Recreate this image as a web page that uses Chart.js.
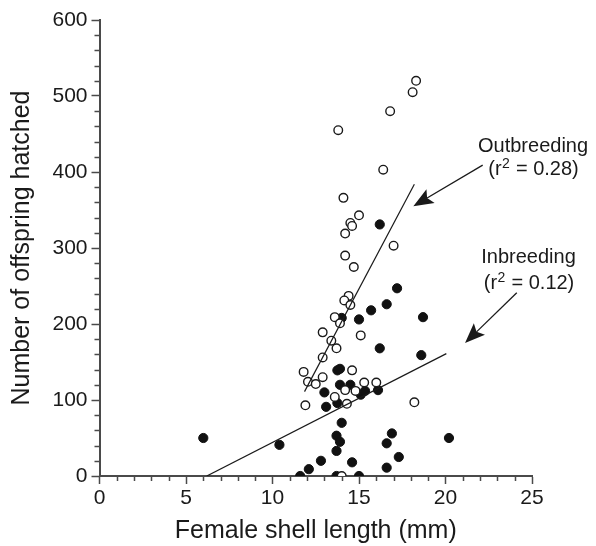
<!DOCTYPE html>
<html>
<head>
<meta charset="utf-8">
<script src="https://cdn.jsdelivr.net/npm/chart.js@4.4.1/dist/chart.umd.min.js"></script>
<style>
  html, body { margin: 0; padding: 0; background: #fff; }
  canvas { display: block; }
</style>
</head>
<body>
<canvas id="chart" width="596" height="546"></canvas>
<script>
// datos
const xTicks = [0, 5, 10, 15, 20, 25];
const yTicks = [0, 100, 200, 300, 400, 500, 600];

// outbreeding (circulos abiertos)
const outX = [18.3, 18.1, 16.8, 13.8, 16.4, 14.1, 15.0, 14.5, 14.6, 14.2, 17.0, 14.2, 14.7,
              14.4, 14.15, 14.5, 13.6, 13.9, 12.9, 15.1, 13.4, 13.7, 12.9, 11.8, 14.6, 12.9,
              12.05, 12.5, 15.3, 16.0, 14.2, 14.8, 13.6, 11.9, 14.3, 18.2, 14.0];
const outY = [520, 505, 480, 455, 403, 366, 343, 333, 329, 319, 303, 290, 275,
              237, 231, 225, 209, 201, 189, 185, 178, 168, 156, 137, 139, 130,
              124, 121, 123, 123, 113, 112, 104, 93, 95, 97, 0];

// inbreeding (circulos rellenos)
const inX = [6.0, 10.4, 11.6, 12.1, 12.8, 13.7, 13.7, 13.9, 14.0, 13.1, 13.75, 13.0, 13.9,
             14.5, 13.75, 13.9, 14.0, 15.0, 15.7, 16.6, 16.2, 17.2, 16.2, 18.7, 18.6, 15.1,
             15.35, 16.1, 16.9, 16.6, 20.2, 17.3, 14.6, 16.6, 15.0, 13.7];
const inY = [50, 41, 0, 9, 20, 53, 33, 45, 70, 91, 96, 110, 120,
             120, 139, 141, 208, 206, 218, 226, 331, 247, 168, 209, 159, 107,
             112, 113, 56, 43, 50, 25, 18, 11, 0, 0];

// rectas de regresion (extremos)
const outFitX = [11.85, 18.2];
const outFitY = [111, 384];
const inFitX = [6.2, 20.05];
const inFitY = [0, 161];

const groupNames = ['Outbreeding', 'Inbreeding'];
const r2Values = ['0.28', '0.12'];

const toPoints = (xs, ys) => xs.map((x, i) => ({ x: x, y: ys[i] }));

const FONT = '"Liberation Sans", Arial, Helvetica, sans-serif';
const INK = '#1a1a1a';
const AXIS = '#4a4a4a';

// ticks menores y anotaciones con flechas
const extrasPlugin = {
  id: 'extras',
  afterDraw(chart) {
    const ctx = chart.ctx;
    const xs = chart.scales.x;
    const ys = chart.scales.y;
    const area = chart.chartArea;

    ctx.save();
    ctx.strokeStyle = AXIS;
    ctx.lineWidth = 1.5;
    ctx.beginPath();
    for (let v = 0; v <= 25; v++) {
      if (v % 5 === 0) continue;
      const px = Math.round(xs.getPixelForValue(v)) + 0.5;
      ctx.moveTo(px, area.bottom);
      ctx.lineTo(px, area.bottom + 5);
    }
    for (let v = 0; v <= 600; v += 20) {
      if (v % 100 === 0) continue;
      const py = Math.round(ys.getPixelForValue(v)) + 0.5;
      ctx.moveTo(area.left, py);
      ctx.lineTo(area.left - 5, py);
    }
    ctx.stroke();

    // texto con superindice
    const drawLabel = (name, r2, cx, cy1, cy2) => {
      ctx.fillStyle = INK;
      ctx.textBaseline = 'middle';
      ctx.textAlign = 'left';
      ctx.font = '20px ' + FONT;
      const wName = ctx.measureText(name).width;
      ctx.fillText(name, cx - wName / 2, cy1);

      const a = '(r', b = '2', c = ' = ' + r2 + ')';
      const wa = ctx.measureText(a).width;
      const wc = ctx.measureText(c).width;
      ctx.font = '14px ' + FONT;
      const wb = ctx.measureText(b).width;
      let x0 = cx - (wa + wb + wc) / 2;
      ctx.font = '20px ' + FONT;
      ctx.fillText(a, x0, cy2);
      ctx.font = '14px ' + FONT;
      ctx.fillText(b, x0 + wa + 0.5, cy2 - 6);
      ctx.font = '20px ' + FONT;
      ctx.fillText(c, x0 + wa + wb + 1, cy2);
    };

    const drawArrow = (x1, y1, x2, y2) => {
      const ang = Math.atan2(y2 - y1, x2 - x1);
      const len = 20, half = 8;
      const bx = x2 - Math.cos(ang) * len;
      const by = y2 - Math.sin(ang) * len;
      ctx.strokeStyle = INK;
      ctx.lineWidth = 1.3;
      ctx.beginPath();
      ctx.moveTo(x1, y1);
      ctx.lineTo(bx + Math.cos(ang) * 4, by + Math.sin(ang) * 4);
      ctx.stroke();
      ctx.fillStyle = INK;
      ctx.beginPath();
      ctx.moveTo(x2, y2);
      ctx.lineTo(bx - Math.sin(ang) * half, by + Math.cos(ang) * half);
      ctx.lineTo(bx + Math.cos(ang) * 4, by + Math.sin(ang) * 4);
      ctx.lineTo(bx + Math.sin(ang) * half, by - Math.cos(ang) * half);
      ctx.closePath();
      ctx.fill();
    };

    const X = v => xs.getPixelForValue(v);
    const Y = v => ys.getPixelForValue(v);

    drawLabel(groupNames[0], r2Values[0], X(25.06), Y(433), Y(403));
    drawArrow(X(22.15), Y(409), X(18.14), Y(355));

    drawLabel(groupNames[1], r2Values[1], X(24.8), Y(287), Y(253));
    drawArrow(X(24.12), Y(241), X(21.13), Y(175));

    ctx.restore();
  }
};

const ctx = document.getElementById('chart').getContext('2d');

new Chart(ctx, {
  type: 'scatter',
  data: {
    datasets: [
      {
        label: 'outFit',
        type: 'line',
        data: toPoints(outFitX, outFitY),
        borderColor: INK,
        borderWidth: 1.2,
        pointRadius: 0,
        fill: false,
        order: -1
      },
      {
        label: 'inFit',
        type: 'line',
        data: toPoints(inFitX, inFitY),
        borderColor: INK,
        borderWidth: 1.2,
        pointRadius: 0,
        fill: false,
        order: -1
      },
      {
        label: 'Outbreeding',
        data: toPoints(outX, outY),
        pointRadius: 4.3,
        pointBackgroundColor: '#fff',
        pointBorderColor: INK,
        pointBorderWidth: 1.4,
        order: 0
      },
      {
        label: 'Inbreeding',
        data: toPoints(inX, inY),
        pointRadius: 4.6,
        pointBackgroundColor: '#111',
        pointBorderColor: '#111',
        pointBorderWidth: 1,
        order: 1
      }
    ]
  },
  options: {
    responsive: false,
    animation: false,
    layout: { padding: { left: 0, right: 64, top: 20, bottom: 0 } },
    plugins: {
      legend: { display: false },
      tooltip: { enabled: false }
    },
    scales: {
      x: {
        type: 'linear',
        min: 0,
        max: 25,
        afterBuildTicks: (s) => { s.ticks = xTicks.map(v => ({ value: v })); },
        afterFit: (s) => { s.height = 70; },
        grid: {
          drawOnChartArea: false,
          drawTicks: true,
          tickLength: 8,
          tickColor: AXIS,
          tickWidth: 1.5
        },
        border: { display: true, color: AXIS, width: 2 },
        ticks: {
          color: INK,
          padding: 2,
          maxRotation: 0,
          font: { family: FONT, size: 21 }
        },
        title: {
          display: true,
          text: 'Female shell length (mm)',
          color: INK,
          font: { family: FONT, size: 25 },
          padding: { top: 0, bottom: 0 }
        }
      },
      y: {
        type: 'linear',
        min: 0,
        max: 600,
        afterBuildTicks: (s) => { s.ticks = yTicks.map(v => ({ value: v })); },
        afterFit: (s) => { s.width = 99.5; },
        grid: {
          drawOnChartArea: false,
          drawTicks: true,
          tickLength: 8,
          tickColor: AXIS,
          tickWidth: 1.5
        },
        border: { display: true, color: AXIS, width: 2 },
        ticks: {
          color: INK,
          padding: 4,
          font: { family: FONT, size: 21 }
        },
        title: {
          display: true,
          text: 'Number of offspring hatched',
          color: INK,
          font: { family: FONT, size: 25 },
          padding: { top: 7, bottom: 0 }
        }
      }
    }
  },
  plugins: [extrasPlugin]
});
</script>
</body>
</html>
